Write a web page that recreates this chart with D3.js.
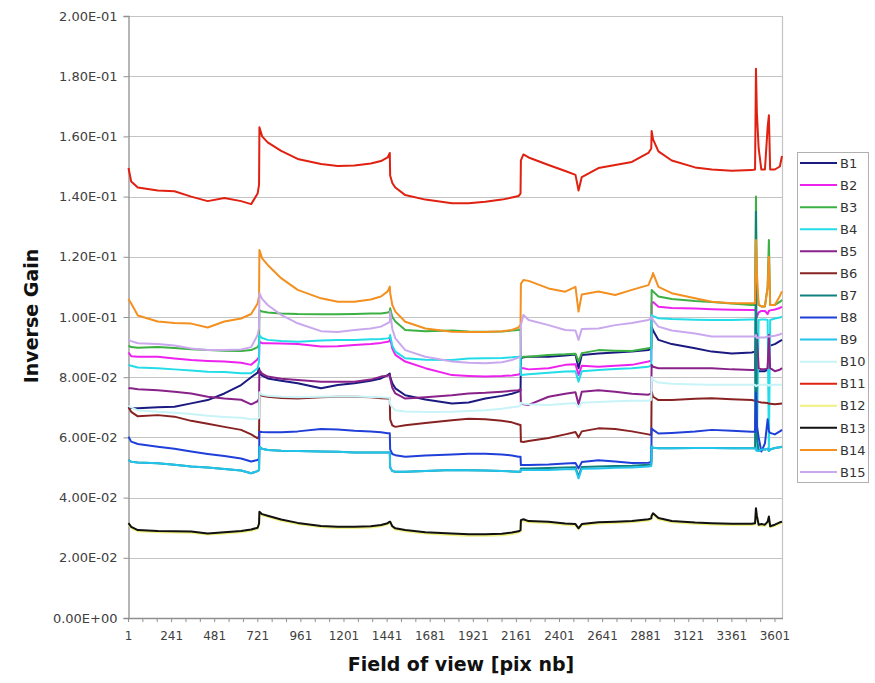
<!DOCTYPE html>
<html>
<head>
<meta charset="utf-8">
<script src="https://cdn.jsdelivr.net/npm/d3@7/dist/d3.min.js"></script>
<style>
  html, body { margin: 0; padding: 0; background: #fff; }
  svg { display: block; font-family: "DejaVu Sans", Verdana, sans-serif; }
</style>
</head>
<body>
<svg id="chart" width="875" height="683"></svg>
<script>
// ---------------- DATA ----------------
const pixelIndex = [
  1, 16, 53, 164, 257, 350, 442, 535, 628, 684, 720, 728,
  730, 745, 776, 851, 943, 1073, 1166, 1259, 1350, 1407, 1444, 1456,
  1458, 1470, 1487, 1542, 1654, 1802, 1895, 1988, 2080, 2136, 2173, 2184,
  2186, 2200, 2229, 2340, 2433, 2490, 2507, 2525, 2618, 2711, 2804, 2896, 2912,
  2914, 2922, 2952, 3026, 3156, 3249, 3360, 3471, 3490, 3495, 3500, 3510, 3525, 3545, 3560, 3567, 3574, 3600, 3628, 3640
];

const seriesNames = ["B1","B2","B3","B4","B5","B6","B7","B8","B9","B10","B11","B12","B13","B14","B15"];
const seriesColors = ["#1a1a80","#ee22ee","#3cb043","#22dde8","#882288","#882222","#108080","#1f3fd8","#22c4ec","#c8f4f8","#e02010","#f0f080","#111111","#f39020","#c9a8ee"];

const B1 = [
  0.0700, 0.0698, 0.0697, 0.0700, 0.0702, 0.0713, 0.0724, 0.0746, 0.0774, 0.0800, 0.0815, 0.0830,
  0.0813, 0.0805, 0.0796, 0.0788, 0.0780, 0.0763, 0.0774, 0.0780, 0.0788, 0.0796, 0.0807, 0.0812,
  0.0802, 0.0780, 0.0763, 0.0740, 0.0726, 0.0713, 0.0716, 0.0729, 0.0738, 0.0745, 0.0752, 0.0755,
  0.0863, 0.0866, 0.0868, 0.0868, 0.0872, 0.0875, 0.0830, 0.0874, 0.0879, 0.0882, 0.0885, 0.0890, 0.0895,
  0.0968, 0.0955, 0.0924, 0.0910, 0.0896, 0.0885, 0.0879, 0.0882, 0.0885, 0.0900, 0.0820, 0.0820, 0.0820, 0.0820, 0.0825, 0.0910, 0.0905, 0.0910, 0.0920, 0.0924
];
const B2 = [
  0.0882, 0.0870, 0.0868, 0.0868, 0.0862, 0.0857, 0.0854, 0.0852, 0.0848, 0.0841, 0.0860, 0.0868,
  0.0918, 0.0913, 0.0913, 0.0912, 0.0910, 0.0902, 0.0903, 0.0907, 0.0910, 0.0914, 0.0918, 0.0920,
  0.0929, 0.0895, 0.0874, 0.0852, 0.0830, 0.0807, 0.0804, 0.0802, 0.0804, 0.0806, 0.0809, 0.0812,
  0.0830, 0.0830, 0.0826, 0.0830, 0.0841, 0.0843, 0.0807, 0.0838, 0.0835, 0.0838, 0.0841, 0.0852, 0.0855,
  0.1046, 0.1050, 0.1034, 0.1030, 0.1028, 0.1026, 0.1024, 0.1023, 0.1023, 0.1020, 0.1000, 0.1015, 0.1020, 0.1020, 0.1010, 0.1020, 0.1022, 0.1025, 0.1030, 0.1034
];
const B3 = [
  0.0905, 0.0900, 0.0898, 0.0900, 0.0897, 0.0893, 0.0890, 0.0888, 0.0887, 0.0890, 0.0900, 0.0910,
  0.1023, 0.1018, 0.1015, 0.1012, 0.1010, 0.1009, 0.1009, 0.1010, 0.1012, 0.1012, 0.1015, 0.1018,
  0.1029, 0.1000, 0.0985, 0.0957, 0.0953, 0.0955, 0.0952, 0.0951, 0.0952, 0.0955, 0.0957, 0.0960,
  0.0865, 0.0868, 0.0868, 0.0874, 0.0876, 0.0878, 0.0852, 0.0880, 0.0890, 0.0888, 0.0887, 0.0896, 0.0900,
  0.1090, 0.1085, 0.1068, 0.1060, 0.1053, 0.1050, 0.1045, 0.1040, 0.1040, 0.1400, 0.1100, 0.1040, 0.1035, 0.1035, 0.1100, 0.1256, 0.1040, 0.1040, 0.1050, 0.1057
];
const B4 = [
  0.0841, 0.0838, 0.0832, 0.0830, 0.0826, 0.0822, 0.0818, 0.0817, 0.0813, 0.0813, 0.0830, 0.0852,
  0.0940, 0.0930, 0.0924, 0.0920, 0.0918, 0.0922, 0.0924, 0.0924, 0.0926, 0.0927, 0.0929, 0.0932,
  0.0940, 0.0905, 0.0885, 0.0863, 0.0858, 0.0857, 0.0862, 0.0863, 0.0864, 0.0866, 0.0868, 0.0870,
  0.0807, 0.0808, 0.0810, 0.0815, 0.0819, 0.0820, 0.0785, 0.0820, 0.0824, 0.0827, 0.0830, 0.0835, 0.0838,
  0.1007, 0.1003, 0.0996, 0.0993, 0.0991, 0.0990, 0.0990, 0.0992, 0.0992, 0.0558, 0.0560, 0.0990, 0.0992, 0.0992, 0.0990, 0.0558, 0.0990, 0.0995, 0.0998, 0.1001
];
const B5 = [
  0.0763, 0.0763, 0.0760, 0.0757, 0.0752, 0.0746, 0.0735, 0.0729, 0.0725, 0.0710, 0.0720, 0.0729,
  0.0824, 0.0812, 0.0802, 0.0795, 0.0791, 0.0785, 0.0785, 0.0785, 0.0792, 0.0802, 0.0805, 0.0807,
  0.0796, 0.0765, 0.0746, 0.0729, 0.0733, 0.0740, 0.0746, 0.0748, 0.0752, 0.0755, 0.0757, 0.0760,
  0.0713, 0.0710, 0.0708, 0.0735, 0.0745, 0.0750, 0.0710, 0.0752, 0.0757, 0.0752, 0.0745, 0.0742, 0.0746,
  0.0841, 0.0835, 0.0830, 0.0830, 0.0830, 0.0830, 0.0826, 0.0824, 0.0824, 0.0950, 0.0940, 0.0830, 0.0826, 0.0826, 0.0830, 0.0940, 0.0830, 0.0820, 0.0825, 0.0830
];
const B6 = [
  0.0700, 0.0685, 0.0670, 0.0674, 0.0669, 0.0655, 0.0645, 0.0635, 0.0625, 0.0610, 0.0597, 0.0605,
  0.0746, 0.0738, 0.0735, 0.0731, 0.0729, 0.0733, 0.0735, 0.0735, 0.0733, 0.0730, 0.0729, 0.0730,
  0.0660, 0.0640, 0.0635, 0.0640, 0.0648, 0.0657, 0.0662, 0.0660, 0.0655, 0.0650, 0.0643, 0.0641,
  0.0586, 0.0585, 0.0588, 0.0598, 0.0610, 0.0618, 0.0600, 0.0620, 0.0630, 0.0628, 0.0620, 0.0610, 0.0608,
  0.0752, 0.0735, 0.0724, 0.0724, 0.0728, 0.0730, 0.0727, 0.0724, 0.0722, 0.0720, 0.0720, 0.0718, 0.0716, 0.0715, 0.0714, 0.0712, 0.0712, 0.0710, 0.0712, 0.0713
];
const B7 = [
  0.0525, 0.0519, 0.0517, 0.0514, 0.0509, 0.0503, 0.0500, 0.0495, 0.0490, 0.0481, 0.0488, 0.0492,
  0.0569, 0.0562, 0.0558, 0.0556, 0.0555, 0.0553, 0.0552, 0.0550, 0.0550, 0.0550, 0.0550, 0.0550,
  0.0500, 0.0488, 0.0486, 0.0486, 0.0488, 0.0492, 0.0491, 0.0490, 0.0488, 0.0487, 0.0486, 0.0486,
  0.0497, 0.0497, 0.0497, 0.0498, 0.0500, 0.0501, 0.0470, 0.0502, 0.0503, 0.0505, 0.0506, 0.0509, 0.0510,
  0.0570, 0.0566, 0.0564, 0.0564, 0.0565, 0.0565, 0.0564, 0.0564, 0.0564, 0.1350, 0.0600, 0.0555, 0.0560, 0.0560, 0.0562, 0.0555, 0.0560, 0.0565, 0.0567, 0.0569
];
const B8 = [
  0.0602, 0.0586, 0.0578, 0.0569, 0.0562, 0.0553, 0.0545, 0.0538, 0.0530, 0.0520, 0.0525, 0.0530,
  0.0619, 0.0618, 0.0617, 0.0617, 0.0620, 0.0628, 0.0626, 0.0622, 0.0620, 0.0617, 0.0614, 0.0614,
  0.0560, 0.0545, 0.0541, 0.0536, 0.0540, 0.0543, 0.0546, 0.0546, 0.0543, 0.0540, 0.0536, 0.0536,
  0.0508, 0.0508, 0.0508, 0.0510, 0.0513, 0.0515, 0.0497, 0.0518, 0.0524, 0.0520, 0.0515, 0.0516, 0.0518,
  0.0630, 0.0625, 0.0613, 0.0615, 0.0620, 0.0625, 0.0622, 0.0619, 0.0619, 0.0750, 0.0640, 0.0600, 0.0553, 0.0580, 0.0660, 0.0620, 0.0615, 0.0610, 0.0620, 0.0625
];
const B9 = [
  0.0525, 0.0519, 0.0517, 0.0514, 0.0509, 0.0503, 0.0500, 0.0495, 0.0490, 0.0481, 0.0488, 0.0492,
  0.0569, 0.0562, 0.0558, 0.0556, 0.0555, 0.0553, 0.0552, 0.0550, 0.0550, 0.0550, 0.0550, 0.0550,
  0.0500, 0.0488, 0.0486, 0.0486, 0.0488, 0.0492, 0.0491, 0.0490, 0.0488, 0.0487, 0.0486, 0.0486,
  0.0492, 0.0492, 0.0492, 0.0492, 0.0494, 0.0495, 0.0464, 0.0496, 0.0497, 0.0499, 0.0500, 0.0503, 0.0505,
  0.0570, 0.0566, 0.0564, 0.0564, 0.0565, 0.0565, 0.0564, 0.0564, 0.0564, 0.0560, 0.0555, 0.0555, 0.0560, 0.0560, 0.0562, 0.0555, 0.0560, 0.0565, 0.0567, 0.0569
];
const B10 = [
  0.0705, 0.0700, 0.0690, 0.0685, 0.0682, 0.0678, 0.0672, 0.0668, 0.0665, 0.0660, 0.0662, 0.0665,
  0.0750, 0.0742, 0.0738, 0.0735, 0.0733, 0.0735, 0.0736, 0.0736, 0.0734, 0.0733, 0.0732, 0.0732,
  0.0710, 0.0700, 0.0690, 0.0686, 0.0684, 0.0685, 0.0688, 0.0690, 0.0695, 0.0700, 0.0703, 0.0705,
  0.0715, 0.0712, 0.0710, 0.0708, 0.0712, 0.0714, 0.0700, 0.0715, 0.0718, 0.0720, 0.0722, 0.0722, 0.0725,
  0.0800, 0.0790, 0.0782, 0.0778, 0.0776, 0.0775, 0.0775, 0.0775, 0.0775, 0.0770, 0.0772, 0.0774, 0.0775, 0.0775, 0.0775, 0.0772, 0.0774, 0.0775, 0.0775, 0.0775
];
const B11 = [
  0.1495, 0.1450, 0.1430, 0.1420, 0.1418, 0.1400, 0.1385, 0.1395, 0.1385, 0.1375, 0.1410, 0.1440,
  0.1630, 0.1600, 0.1580, 0.1552, 0.1525, 0.1508, 0.1502, 0.1503, 0.1510, 0.1518, 0.1530, 0.1545,
  0.1470, 0.1445, 0.1430, 0.1405, 0.1390, 0.1378, 0.1378, 0.1383, 0.1390, 0.1397, 0.1402, 0.1410,
  0.1520, 0.1540, 0.1530, 0.1505, 0.1485, 0.1472, 0.1420, 0.1465, 0.1495, 0.1505, 0.1515, 0.1545, 0.1560,
  0.1618, 0.1590, 0.1550, 0.1520, 0.1497, 0.1490, 0.1486, 0.1488, 0.1490, 0.1825, 0.1680, 0.1560, 0.1490, 0.1490, 0.1630, 0.1670, 0.1490, 0.1490, 0.1500, 0.1535
];
const B12 = [
  0.0311, 0.0299, 0.0288, 0.0285, 0.0284, 0.0283, 0.0277, 0.0281, 0.0285, 0.0290, 0.0296, 0.0310,
  0.0349, 0.0341, 0.0336, 0.0323, 0.0312, 0.0302, 0.0299, 0.0299, 0.0301, 0.0305, 0.0311, 0.0316,
  0.0316, 0.0301, 0.0294, 0.0288, 0.0281, 0.0276, 0.0273, 0.0273, 0.0275, 0.0279, 0.0284, 0.0288,
  0.0321, 0.0324, 0.0318, 0.0316, 0.0310, 0.0308, 0.0294, 0.0308, 0.0314, 0.0316, 0.0318, 0.0324, 0.0327,
  0.0336, 0.0344, 0.0328, 0.0318, 0.0313, 0.0311, 0.0309, 0.0309, 0.0311, 0.0355, 0.0336, 0.0306, 0.0308, 0.0306, 0.0316, 0.0333, 0.0301, 0.0306, 0.0314, 0.0316
];
const B13 = [
  0.0315, 0.0303, 0.0292, 0.0289, 0.0288, 0.0287, 0.0281, 0.0285, 0.0289, 0.0294, 0.0300, 0.0314,
  0.0353, 0.0345, 0.0340, 0.0327, 0.0316, 0.0306, 0.0303, 0.0303, 0.0305, 0.0309, 0.0315, 0.0320,
  0.0320, 0.0305, 0.0298, 0.0292, 0.0285, 0.0281, 0.0278, 0.0278, 0.0280, 0.0284, 0.0288, 0.0292,
  0.0325, 0.0328, 0.0322, 0.0320, 0.0314, 0.0312, 0.0298, 0.0312, 0.0318, 0.0320, 0.0322, 0.0328, 0.0331,
  0.0340, 0.0348, 0.0332, 0.0322, 0.0317, 0.0315, 0.0313, 0.0313, 0.0315, 0.0365, 0.0340, 0.0310, 0.0312, 0.0310, 0.0320, 0.0337, 0.0305, 0.0310, 0.0318, 0.0320
];
const B14 = [
  0.1060, 0.1045, 0.1005, 0.0985, 0.0980, 0.0978, 0.0965, 0.0985, 0.0995, 0.1010, 0.1045, 0.1070,
  0.1223, 0.1195, 0.1173, 0.1129, 0.1090, 0.1062, 0.1051, 0.1051, 0.1058, 0.1068, 0.1085, 0.1101,
  0.1080, 0.1040, 0.1018, 0.0984, 0.0962, 0.0951, 0.0950, 0.0950, 0.0953, 0.0957, 0.0965, 0.0975,
  0.1110, 0.1123, 0.1120, 0.1095, 0.1084, 0.1100, 0.1018, 0.1075, 0.1085, 0.1073, 0.1090, 0.1106, 0.1129,
  0.1130, 0.1146, 0.1100, 0.1079, 0.1062, 0.1051, 0.1046, 0.1046, 0.1046, 0.1256, 0.1150, 0.1040, 0.1035, 0.1035, 0.1100, 0.1200, 0.1040, 0.1040, 0.1070, 0.1085
];
const B15 = [
  0.0924, 0.0920, 0.0913, 0.0910, 0.0905, 0.0895, 0.0890, 0.0890, 0.0892, 0.0900, 0.0940, 0.0963,
  0.1079, 0.1060, 0.1040, 0.1007, 0.0979, 0.0953, 0.0950, 0.0957, 0.0962, 0.0968, 0.0980, 0.0984,
  0.1018, 0.0960, 0.0929, 0.0890, 0.0868, 0.0852, 0.0848, 0.0846, 0.0850, 0.0857, 0.0865, 0.0868,
  0.0973, 0.1007, 0.0990, 0.0973, 0.0957, 0.0955, 0.0924, 0.0960, 0.0962, 0.0973, 0.0980, 0.0990, 0.0996,
  0.1001, 0.0990, 0.0968, 0.0955, 0.0945, 0.0935, 0.0935, 0.0935, 0.0935, 0.0940, 0.0930, 0.0932, 0.0932, 0.0932, 0.0935, 0.0935, 0.0935, 0.0938, 0.0942, 0.0946
];

const seriesValues = [B1, B2, B3, B4, B5, B6, B7, B8, B9, B10, B11, B12, B13, B14, B15];

const yTickValues = [0, 0.02, 0.04, 0.06, 0.08, 0.10, 0.12, 0.14, 0.16, 0.18, 0.20];
const xTickLabels = [1, 241, 481, 721, 961, 1201, 1441, 1681, 1921, 2161, 2401, 2641, 2881, 3121, 3361, 3601];
const xTitle = "Field of view [pix nb]";
const yTitle = "Inverse Gain";

// ---------------- CHART ----------------
const svg = d3.select("#chart");
const plot = { left: 128, right: 782, top: 16, bottom: 618 };

const x = d3.scaleLinear().domain([1, 3640]).range([plot.left + 0.5, plot.right]);
const y = d3.scaleLinear().domain([0, 0.2]).range([plot.bottom, plot.top]);

// gridlines
svg.append("g").selectAll("line").data(yTickValues.filter(v => v > 0)).join("line")
  .attr("x1", plot.left).attr("x2", plot.right)
  .attr("y1", d => Math.round(y(d)) + 0.5).attr("y2", d => Math.round(y(d)) + 0.5)
  .attr("stroke", "#c4c4c4").attr("stroke-width", 1.2);

// right border
svg.append("line")
  .attr("x1", plot.right + 0.5).attr("x2", plot.right + 0.5)
  .attr("y1", plot.top).attr("y2", plot.bottom)
  .attr("stroke", "#c4c4c4").attr("stroke-width", 1.2);

// y axis
const yAxis = d3.axisLeft(y).tickValues(yTickValues).tickSize(5).tickPadding(6)
  .tickFormat(d => d3.format(".2e")(d).replace(/e([+-])(\d)$/, "e$10$2").toUpperCase());
const gy = svg.append("g").attr("transform", `translate(${plot.left + 0.5},0)`).call(yAxis);
gy.select(".domain").attr("stroke", "#909090").attr("stroke-width", 1.3);
gy.selectAll(".tick line").attr("stroke", "#909090");
gy.selectAll(".tick text").attr("font-size", 13).attr("fill", "#404040")
  .attr("font-family", "DejaVu Sans, Verdana, sans-serif");

// x axis
const xMinor = d3.range(1, 3641, 80);
svg.append("g").selectAll("line").data(xMinor).join("line")
  .attr("x1", d => x(d)).attr("x2", d => x(d))
  .attr("y1", plot.bottom).attr("y2", plot.bottom + 4)
  .attr("stroke", "#909090");
svg.append("line")
  .attr("x1", plot.left).attr("x2", plot.right + 1)
  .attr("y1", plot.bottom + 0.5).attr("y2", plot.bottom + 0.5)
  .attr("stroke", "#909090").attr("stroke-width", 1.3);
svg.append("g").selectAll("text").data(xTickLabels).join("text")
  .attr("x", d => x(d)).attr("y", 640)
  .attr("text-anchor", "middle")
  .attr("font-size", 12).attr("fill", "#404040")
  .text(d => d);

// series lines
const lineGen = d3.line()
  .defined(d => d[1] != null && !isNaN(d[1]))
  .x(d => x(d[0])).y(d => y(d[1]));

const gLines = svg.append("g");
seriesValues.forEach((vals, i) => {
  const pts = pixelIndex.map((p, k) => [p, vals[k]]);
  gLines.append("path")
    .datum(pts)
    .attr("d", lineGen)
    .attr("fill", "none")
    .attr("stroke", seriesColors[i])
    .attr("stroke-width", 2)
    .attr("stroke-linejoin", "round");
});

// axis titles
svg.append("text")
  .attr("x", 461).attr("y", 671)
  .attr("text-anchor", "middle")
  .attr("font-size", 19).attr("font-weight", "bold").attr("fill", "#111")
  .text(xTitle);
svg.append("text")
  .attr("transform", "translate(38,316) rotate(-90)")
  .attr("text-anchor", "middle")
  .attr("font-size", 19).attr("font-weight", "bold").attr("fill", "#111")
  .text(yTitle);

// legend
const legend = svg.append("g");
legend.append("rect")
  .attr("x", 797.5).attr("y", 152.5).attr("width", 71).attr("height", 330)
  .attr("fill", "#fff").attr("stroke", "#b0b0b0");
seriesNames.forEach((name, i) => {
  const cy = 163 + i * 22.07;
  legend.append("line")
    .attr("x1", 800).attr("x2", 837).attr("y1", cy).attr("y2", cy)
    .attr("stroke", seriesColors[i]).attr("stroke-width", 2);
  legend.append("text")
    .attr("x", 840).attr("y", cy).attr("dy", "0.36em")
    .attr("font-size", 13).attr("fill", "#333")
    .text(name);
});
</script>
</body>
</html>
